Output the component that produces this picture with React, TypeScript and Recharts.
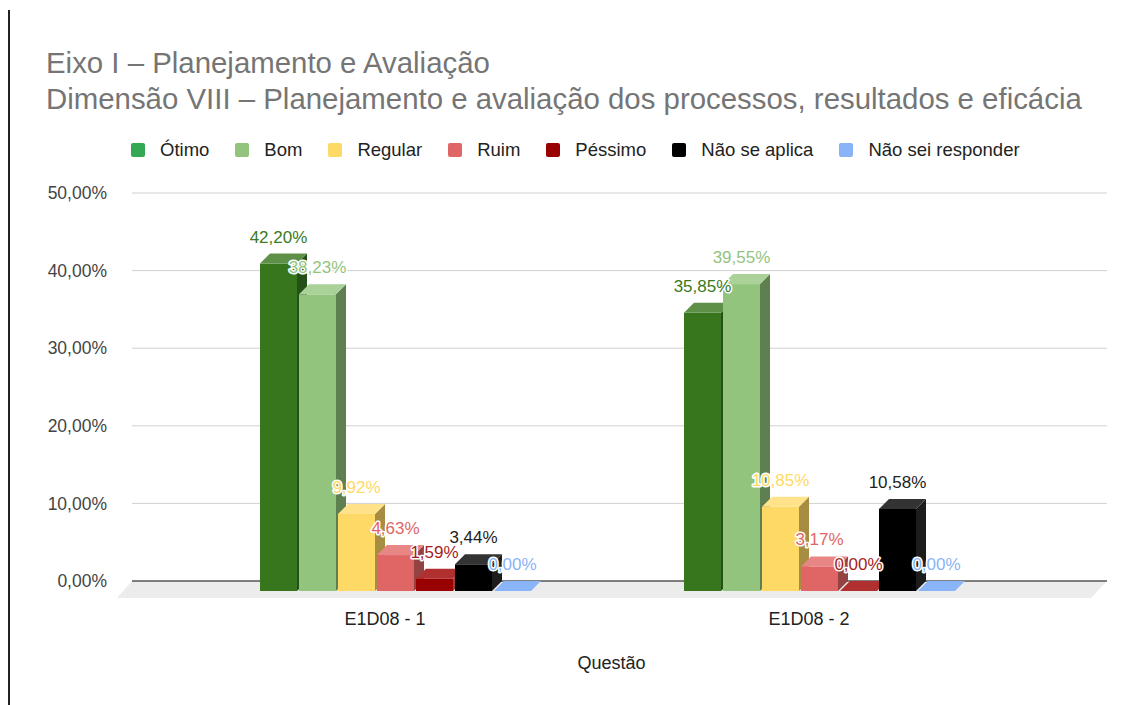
import React from 'react';
import {
  Bar,
  BarChart,
  CartesianGrid,
  LabelList,
  Legend,
  XAxis,
  YAxis,
} from 'recharts';

// questions on the x axis
const categories = ['E1D08 - 1', 'E1D08 - 2'];

// percentages per answer
const otimo = [42.2, 35.85];
const bom = [38.23, 39.55];
const regular = [9.92, 10.85];
const ruim = [4.63, 3.17];
const pessimo = [1.59, 0];
const naoSeAplica = [3.44, 10.58];
const naoSei = [0, 0];

const yTicks = [0, 10, 20, 30, 40, 50];

const series = [
  { key: 'otimo', name: 'Ótimo', values: otimo, front: '#38761d', top: '#5e9147', side: '#24501a', label: '#3a7a22', legend: '#34a853' },
  { key: 'bom', name: 'Bom', values: bom, front: '#93c47d', top: '#a9d198', side: '#5e7f50', label: '#93c47d', legend: '#93c47d' },
  { key: 'regular', name: 'Regular', values: regular, front: '#ffd966', top: '#ffe28a', side: '#a68d42', label: '#ffd966', legend: '#ffd966' },
  { key: 'ruim', name: 'Ruim', values: ruim, front: '#e06666', top: '#e88585', side: '#944343', label: '#e06666', legend: '#e06666' },
  { key: 'pessimo', name: 'Péssimo', values: pessimo, front: '#990000', top: '#b03030', side: '#a03c3c', label: '#a61c1c', legend: '#990000' },
  { key: 'naoSeAplica', name: 'Não se aplica', values: naoSeAplica, front: '#000000', top: '#333333', side: '#1c1c1c', label: '#222222', legend: '#000000' },
  { key: 'naoSei', name: 'Não sei responder', values: naoSei, front: '#8ab4f8', top: '#8ab4f8', side: '#6f93cc', label: '#8ab4f8', legend: '#8ab4f8' },
];

const data = categories.map((name, i) => {
  const row: Record<string, any> = { name };
  series.forEach((s) => {
    row[s.key] = s.values[i];
  });
  return row;
});

const DEPTH = 10;
const FONT = '"Liberation Sans", Arial, sans-serif';

const pct = (v: number) => v.toFixed(2).replace('.', ',') + '%';

// front face sits DEPTH px below/left of the back plane where the grid lives
function makeShape(s: (typeof series)[number]) {
  return (props: any) => {
    const { x, y, width, height } = props;
    const h = Math.max(0, height || 0);
    const fy = y + DEPTH;
    const bottom = y + h + DEPTH;
    return (
      <g>
        {h > 0 && <rect x={x} y={fy} width={width} height={h} fill={s.front} />}
        {h > 0 && (
          <polygon
            points={`${x + width},${fy} ${x + width + DEPTH},${y} ${x + width + DEPTH},${y + h} ${x + width},${bottom}`}
            fill={s.side}
          />
        )}
        <polygon
          points={`${x},${fy} ${x + DEPTH},${y} ${x + width + DEPTH},${y} ${x + width},${fy}`}
          fill={s.top}
        />
      </g>
    );
  };
}

function makeLabel(s: (typeof series)[number]) {
  return (props: any) => {
    const { x, y, width, value } = props;
    return (
      <text
        x={x + width / 2}
        y={y - 11}
        textAnchor="middle"
        fontSize={17}
        fontFamily={FONT}
        fill={s.label}
        stroke="#fff"
        strokeWidth={3}
        strokeLinejoin="round"
        paintOrder="stroke"
      >
        {pct(Number(value))}
      </text>
    );
  };
}

// grid line; the baseline one becomes the grey floor with the axis line
const GridLine = (props: any) => {
  const { x1, x2, y1, index } = props;
  if (index !== 0) {
    return <line x1={x1} x2={x2} y1={y1} y2={y1} stroke="#d0d0d0" strokeWidth={1} />;
  }
  return (
    <g>
      <polygon
        points={`${x1},${y1} ${x2},${y1} ${x2 - 16},${y1 + 17} ${x1 - 15},${y1 + 17}`}
        fill="#ececec"
      />
      <line x1={x1} y1={y1} x2={x2} y2={y1} stroke="#555" strokeWidth={1.5} />
    </g>
  );
};

const XTick = ({ x, y, payload }: any) => (
  <text x={x - 9} y={y + 42} textAnchor="middle" fontSize={18} fontFamily={FONT} fill="#222">
    {payload.value}
  </text>
);

const renderLegend = () => (
  <div
    style={{
      display: 'flex',
      justifyContent: 'flex-start',
      alignItems: 'center',
      fontFamily: FONT,
      fontSize: 18.5,
      color: '#222',
    }}
  >
    {series.map((s) => (
      <div key={s.key} style={{ display: 'flex', alignItems: 'center', marginRight: 26 }}>
        <span
          style={{
            display: 'inline-block',
            width: 14,
            height: 14,
            borderRadius: 2,
            background: s.legend,
            marginRight: 15,
          }}
        />
        <span>{s.name}</span>
      </div>
    ))}
  </div>
);

export default function App() {
  return (
    <div
      style={{
        position: 'absolute',
        left: 0,
        top: 0,
        width: 1134,
        height: 705,
        background: '#fff',
        overflow: 'hidden',
      }}
    >
      <div style={{ position: 'absolute', left: 8, top: 10, width: 2, height: 695, background: '#222' }} />
      <div
        style={{
          position: 'absolute',
          left: 46,
          top: 45,
          fontFamily: FONT,
          fontSize: 29.4,
          lineHeight: '36px',
          color: '#757575',
          whiteSpace: 'nowrap',
        }}
      >
        <div>Eixo I – Planejamento e Avaliação</div>
        <div>Dimensão VIII – Planejamento e avaliação dos processos, resultados e eficácia</div>
      </div>
      <div style={{ position: 'absolute', left: 0, top: 0 }}>
        <BarChart
          width={1134}
          height={705}
          data={data}
          margin={{ top: 193, right: 27, left: 52, bottom: 24 }}
          barCategoryGap={78}
          barGap={2}
        >
          <CartesianGrid vertical={false} horizontal={GridLine} />
          <XAxis
            dataKey="name"
            axisLine={false}
            tickLine={false}
            tickSize={0}
            height={100}
            tick={<XTick />}
            padding={{ left: 50, right: 77 }}
            label={{
              value: 'Questão',
              position: 'insideBottom',
              offset: 12,
              dx: -8,
              fill: '#222',
              fontSize: 18,
              fontFamily: FONT,
            }}
          />
          <YAxis
            width={80}
            domain={[0, 50]}
            ticks={yTicks}
            axisLine={false}
            tickLine={false}
            tickSize={0}
            tickMargin={25}
            tickFormatter={pct}
            tick={{ fill: '#444', fontSize: 17.5, fontFamily: FONT }}
          />
          <Legend
            layout="vertical"
            align="center"
            verticalAlign="middle"
            content={renderLegend}
            wrapperStyle={{ top: 139, left: 131, width: 1000, height: 24 }}
          />
          {series.map((s) => (
            <Bar
              key={s.key}
              dataKey={s.key}
              name={s.name}
              fill={s.front}
              shape={makeShape(s)}
              isAnimationActive={false}
            >
              <LabelList dataKey={s.key} content={makeLabel(s)} />
            </Bar>
          ))}
        </BarChart>
      </div>
    </div>
  );
}
